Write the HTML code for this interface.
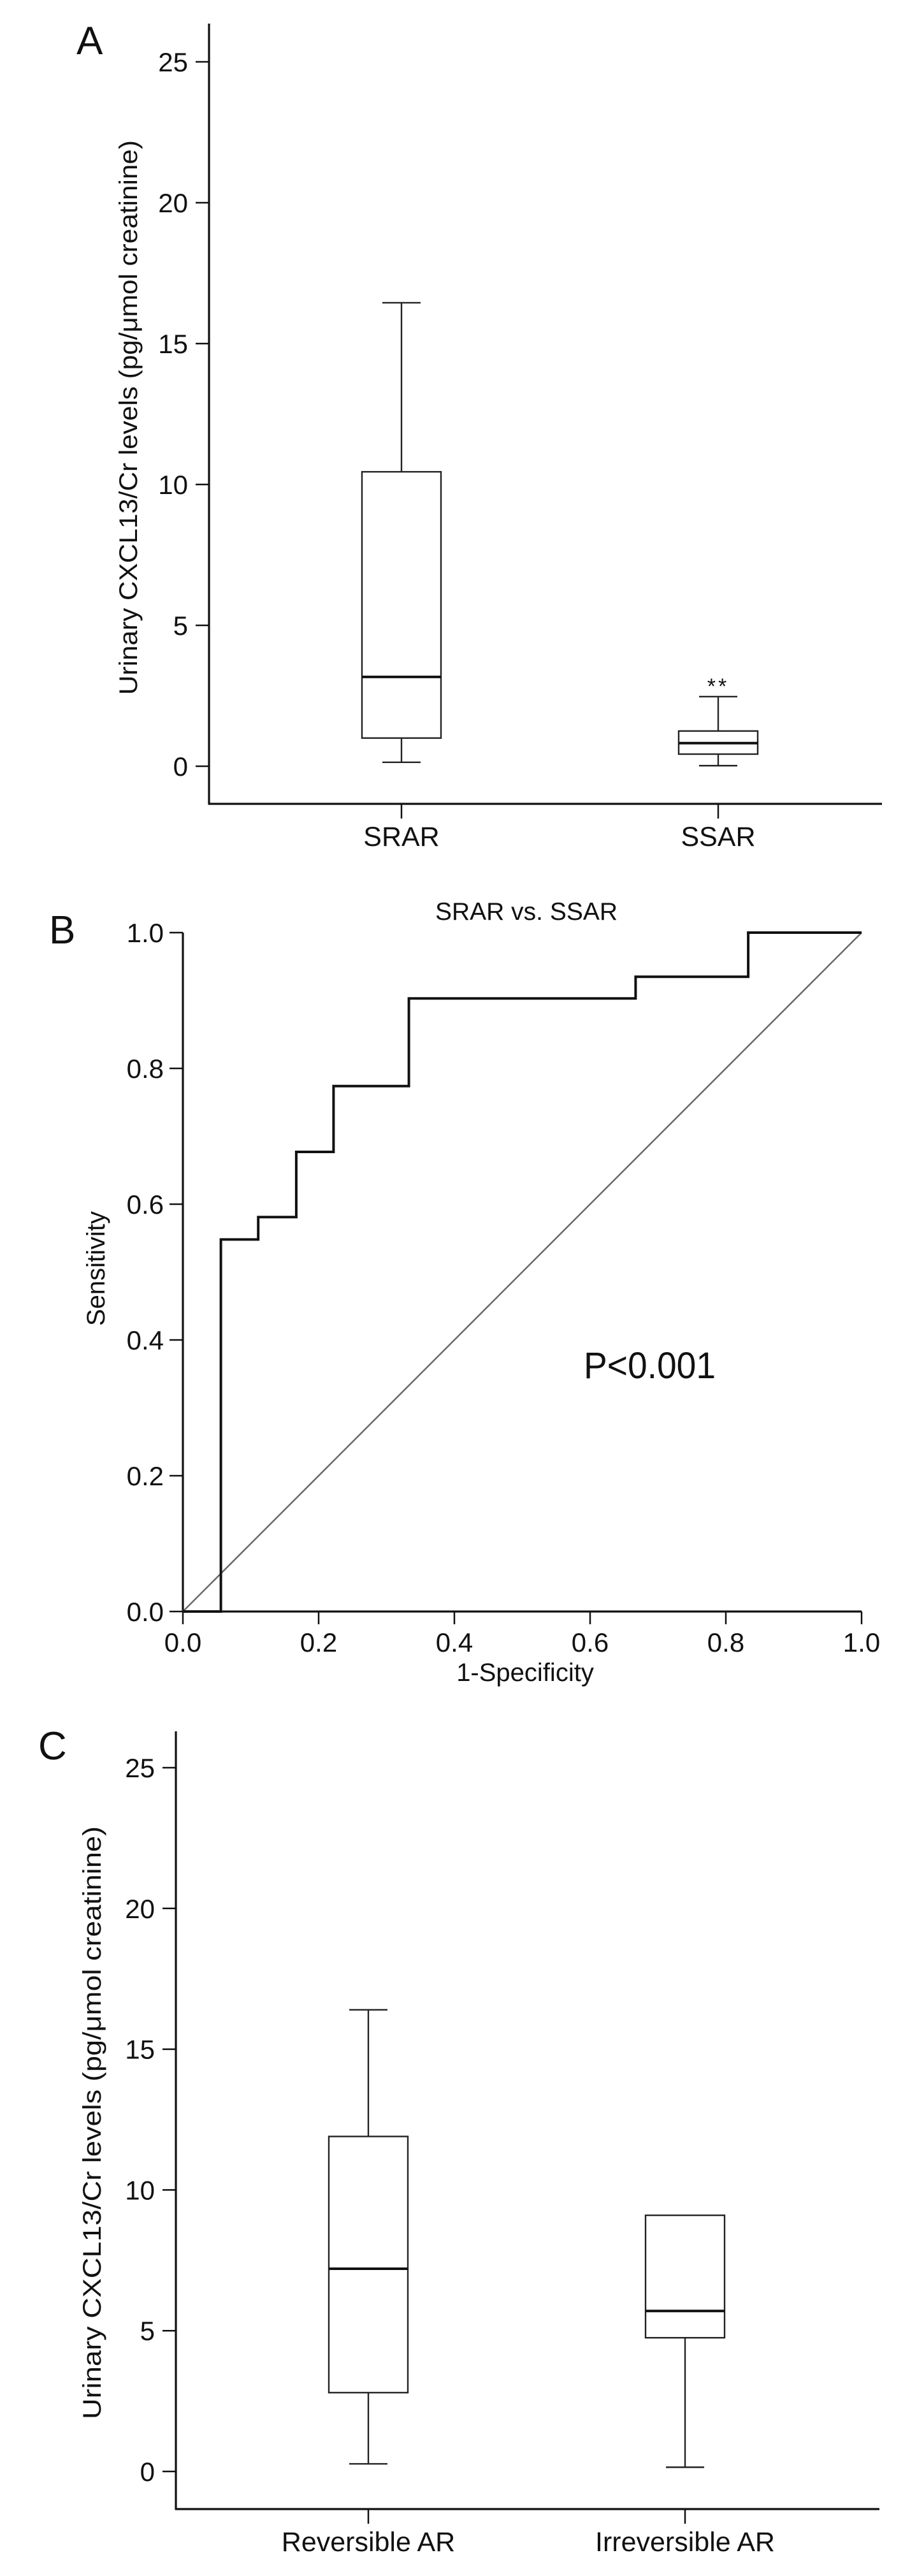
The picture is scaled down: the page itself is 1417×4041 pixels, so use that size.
<!DOCTYPE html>
<html><head><meta charset="utf-8"><style>
html,body{margin:0;padding:0;background:#fff;}
svg{display:block;font-family:"Liberation Sans",Arial,sans-serif;}
</style></head><body>
<svg id="fig" width="1417" height="4041" viewBox="0 0 1417 4041" xmlns="http://www.w3.org/2000/svg"></svg>
<script>
// Panel A data
const aCats = ["SRAR","SSAR"];
const aMin = [0.14, 0.02];
const aQ1 = [1.0, 0.43];
const aMed = [3.17, 0.82];
const aQ3 = [10.45, 1.25];
const aMax = [16.45, 2.47];
const aTicks = [0,5,10,15,20,25];
// Panel B data
const rocX = [0,0.056,0.056,0.111,0.111,0.167,0.167,0.222,0.222,0.333,0.333,0.667,0.667,0.833,0.833,1.0];
const rocY = [0,0,0.548,0.548,0.581,0.581,0.677,0.677,0.774,0.774,0.903,0.903,0.935,0.935,1.0,1.0];
const bTicks = [0,0.2,0.4,0.6,0.8,1.0];
const bTickLabels = ["0.0","0.2","0.4","0.6","0.8","1.0"];
// Panel C data
const cCats = ["Reversible AR","Irreversible AR"];
const cMin = [0.27, 0.15];
const cQ1 = [2.8, 4.75];
const cMed = [7.2, 5.7];
const cQ3 = [11.9, 9.1];
const cMax = [16.4, 9.1];
const cTicks = [0,5,10,15,20,25];

const NS="http://www.w3.org/2000/svg";
const svg=document.getElementById('fig');
function mk(tag,attrs,parent,txt){const e=document.createElementNS(NS,tag);for(const k in attrs)e.setAttribute(k,attrs[k]);if(txt!==undefined)e.textContent=txt;(parent||svg).appendChild(e);return e;}

function boxPanel(o){
  const g=mk('g',{});
  
  
  const y=v=>o.y0-(v)*o.unit;
  const xs=o.catX;
  // axes
  const ya=mk('line',{x1:o.ax,y1:o.top,x2:o.ax,y2:o.bot,stroke:'#111','stroke-width':3.2},g);
  
  const xa=mk('line',{x1:o.ax-1.5,y1:o.bot,x2:o.right,y2:o.bot,stroke:'#111','stroke-width':3.2},g);
  
  o.ticks.forEach(t=>{
    const tk=mk('line',{x1:o.ax-21,y1:y(t),x2:o.ax,y2:y(t),stroke:'#111','stroke-width':2.5},g);
    
    const tl=mk('text',{x:o.ax-33,y:y(t)+15,'text-anchor':'end','font-size':42,fill:'#111'},g,String(t));
    
  });
  o.cats.forEach((c,i)=>{
    const cx=xs[i];
    const tk=mk('line',{x1:cx,y1:o.bot,x2:cx,y2:o.bot+23,stroke:'#111','stroke-width':2.5},g);
    
    const tl=mk('text',{x:cx,y:o.bot+66,'text-anchor':'middle','font-size':43,fill:'#111'},g,c);
    
    const hw=62, cw=30;
    const bx=mk('g',{},g);
    
    
    mk('line',{x1:cx,y1:y(o.max[i]),x2:cx,y2:y(o.q3[i]),stroke:'#222','stroke-width':2.4},bx);
    mk('line',{x1:cx-cw,y1:y(o.max[i]),x2:cx+cw,y2:y(o.max[i]),stroke:'#222','stroke-width':2.4},bx);
    mk('line',{x1:cx,y1:y(o.q1[i]),x2:cx,y2:y(o.min[i]),stroke:'#222','stroke-width':2.4},bx);
    mk('line',{x1:cx-cw,y1:y(o.min[i]),x2:cx+cw,y2:y(o.min[i]),stroke:'#222','stroke-width':2.4},bx);
    mk('rect',{x:cx-hw,y:y(o.q3[i]),width:hw*2,height:y(o.q1[i])-y(o.q3[i]),fill:'#fff',stroke:'#222','stroke-width':2.4},bx);
    mk('line',{x1:cx-hw,y1:y(o.med[i]),x2:cx+hw,y2:y(o.med[i]),stroke:'#111','stroke-width':4},bx);
  });
  const yt=mk('text',{x:0,y:0,transform:`translate(${o.titleX},${o.titleY}) rotate(-90)`,'text-anchor':'middle','font-size':40,fill:'#111',textLength:o.titleLen,lengthAdjust:'spacingAndGlyphs'},g,'Urinary CXCL13/Cr levels (pg/\u03bcmol creatinine)');
  
  const pl=mk('text',{x:o.letterX,y:o.letterY,'font-size':62,fill:'#111'},g,o.letter);
  
  return {g,y};
}

// Panel A
const A=boxPanel({name:'panel-a',ax:328,top:37,bot:1261,right:1384,y0:1202,unit:44.2,catX:[630,1127],cats:aCats,
  min:aMin,q1:aQ1,med:aMed,q3:aQ3,max:aMax,ticks:aTicks,titleX:215,titleY:655,titleLen:870,letter:'A',letterX:120,letterY:85});
const st=mk('text',{x:1127,y:A.y(2.9)+14,'text-anchor':'middle','font-size':34,fill:'#111','letter-spacing':'4'},A.g,'**');


// Panel B
(function(){
  const g=mk('g',{});
  
  
  const x0=287,x1=1352,y0=2528,y1=1463;
  const X=v=>x0+v*(x1-x0), Y=v=>y0-v*(y0-y1);
  const ya=mk('line',{x1:x0,y1:Y(1),x2:x0,y2:y0,stroke:'#111','stroke-width':3.2},g);
  
  const xa=mk('line',{x1:x0,y1:y0,x2:x1,y2:y0,stroke:'#111','stroke-width':3.2},g);
  
  bTicks.forEach((t,i)=>{
    const a=mk('line',{x1:x0-21,y1:Y(t),x2:x0,y2:Y(t),stroke:'#111','stroke-width':2.5},g);
    
    const al=mk('text',{x:x0-30,y:Y(t)+15,'text-anchor':'end','font-size':42,fill:'#111'},g,bTickLabels[i]);
    
    const b=mk('line',{x1:X(t),y1:y0,x2:X(t),y2:y0+20,stroke:'#111','stroke-width':2.5},g);
    
    const bl=mk('text',{x:X(t),y:y0+63,'text-anchor':'middle','font-size':42,fill:'#111'},g,bTickLabels[i]);
    
  });
  const d=mk('line',{x1:X(0),y1:Y(0),x2:X(1),y2:Y(1),stroke:'#666','stroke-width':2.4},g);
  
  const pts=rocX.map((v,i)=>X(v).toFixed(1)+','+Y(rocY[i]).toFixed(1)).join(' ');
  const r=mk('polyline',{points:pts,fill:'none',stroke:'#111','stroke-width':4,'stroke-linejoin':'miter'},g);
  
  const t=mk('text',{x:826,y:1443,'text-anchor':'middle','font-size':39,fill:'#111'},g,'SRAR vs. SSAR');
  
  const xt=mk('text',{x:824,y:2637,'text-anchor':'middle','font-size':40,fill:'#111'},g,'1-Specificity');
  
  const yt=mk('text',{x:0,y:0,transform:'translate(164,1990) rotate(-90)','text-anchor':'middle','font-size':40,fill:'#111'},g,'Sensitivity');
  
  const p=mk('text',{x:916,y:2162,'font-size':58,fill:'#111',textLength:207,lengthAdjust:'spacingAndGlyphs'},g,'P<0.001');
  
  const pl=mk('text',{x:77,y:1480,'font-size':62,fill:'#111'},g,'B');
  
})();

// Panel C
boxPanel({name:'panel-c',ax:276,top:2716,bot:3936,right:1380,y0:3877,unit:44.16,catX:[578,1075],cats:cCats,
  min:cMin,q1:cQ1,med:cMed,q3:cQ3,max:cMax,ticks:cTicks,titleX:158,titleY:3330,titleLen:930,letter:'C',letterX:60,letterY:2760});
</script>
</body></html>
